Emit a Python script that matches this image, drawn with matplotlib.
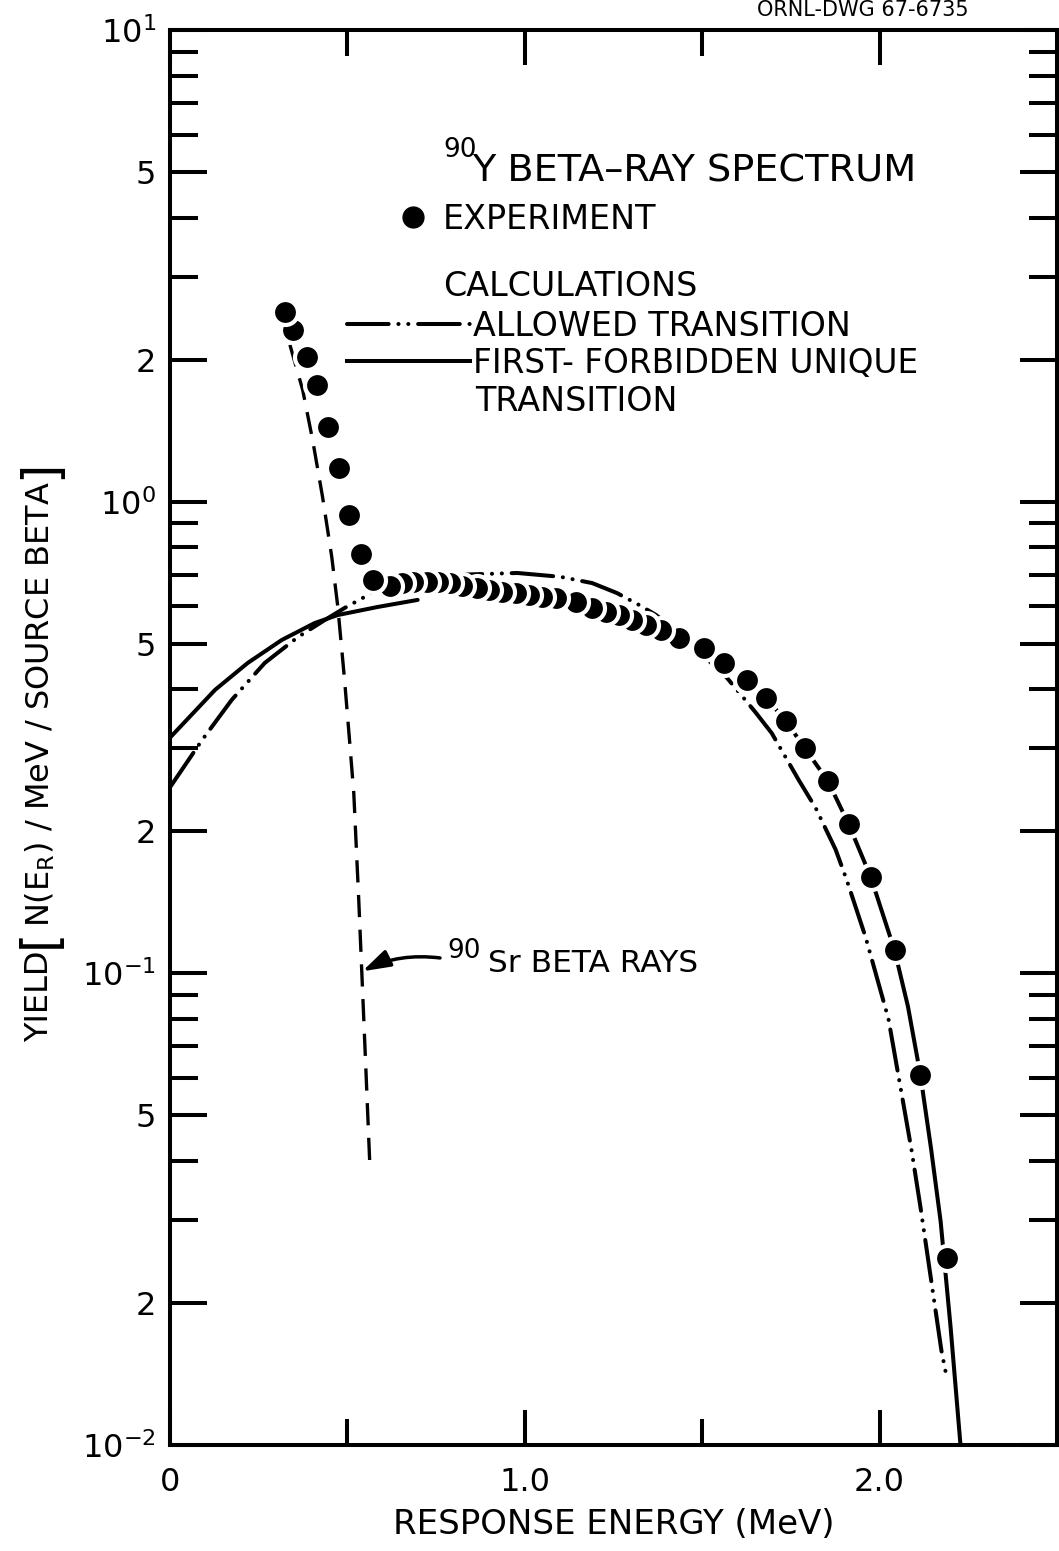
import numpy as np
import matplotlib
matplotlib.use("Agg")
import matplotlib.pyplot as plt
from matplotlib.ticker import FixedLocator, FixedFormatter, LogLocator, FuncFormatter, NullFormatter

plt.rcParams["font.family"] = ["DejaVu Sans"]
plt.rcParams["mathtext.fontset"] = "dejavusans"
plt.rcParams["lines.scale_dashes"] = False

# ---------------- data ----------------
# experiment (90Y beta-ray spectrum), energy in MeV, yield per MeV per source beta
exp_energy = [0.323, 0.346, 0.385, 0.414, 0.444, 0.475, 0.504, 0.537, 0.571, 0.619,
              0.653, 0.684, 0.723, 0.754, 0.788, 0.824, 0.864, 0.900, 0.937, 0.976,
              1.013, 1.049, 1.089, 1.145, 1.190, 1.229, 1.266, 1.302, 1.342, 1.384,
              1.435, 1.505, 1.561, 1.626, 1.679, 1.736, 1.789, 1.854, 1.913, 1.975,
              2.042, 2.115, 2.189]
exp_yield = [2.52, 2.31, 2.03, 1.77, 1.44, 1.18, 0.937, 0.774, 0.682, 0.663,
             0.672, 0.676, 0.676, 0.676, 0.672, 0.663, 0.656, 0.650, 0.643, 0.640,
             0.634, 0.628, 0.625, 0.613, 0.595, 0.583, 0.575, 0.561, 0.548, 0.534,
             0.514, 0.490, 0.455, 0.419, 0.384, 0.343, 0.300, 0.256, 0.207, 0.160,
             0.112, 0.0609, 0.0249]

# calculation: allowed transition
allowed_energy = [0.0, 0.020, 0.090, 0.174, 0.267, 0.360, 0.436, 0.492, 0.568, 0.680,
                  0.788, 0.979, 1.100, 1.190, 1.260, 1.322, 1.370, 1.463, 1.570, 1.651,
                  1.696, 1.772, 1.820, 1.876, 1.907, 1.961, 2.025, 2.090, 2.115, 2.144,
                  2.174, 2.186]
allowed_yield = [0.248, 0.261, 0.312, 0.380, 0.455, 0.516, 0.561, 0.595, 0.640, 0.675,
                 0.699, 0.706, 0.693, 0.672, 0.640, 0.604, 0.575, 0.504, 0.423, 0.357,
                 0.323, 0.257, 0.224, 0.183, 0.158, 0.119, 0.080, 0.0422, 0.0320, 0.0227,
                 0.0159, 0.0143]

# calculation: first-forbidden unique transition (drawn in two visible pieces)
ffu_low_energy = [0.0, 0.127, 0.219, 0.315, 0.408, 0.473, 0.585, 0.698]
ffu_low_yield = [0.316, 0.399, 0.455, 0.509, 0.553, 0.575, 0.598, 0.619]
ffu_high_energy = [1.626, 1.679, 1.736, 1.789, 1.854, 1.913, 1.975, 2.042, 2.080,
                   2.115, 2.145, 2.172, 2.200, 2.228]
ffu_high_yield = [0.419, 0.384, 0.343, 0.300, 0.256, 0.207, 0.160, 0.112, 0.0850,
                  0.0609, 0.0425, 0.0298, 0.0178, 0.0100]

# 90Sr beta rays
sr_energy = [0.338, 0.374, 0.402, 0.430, 0.456, 0.473, 0.492, 0.506, 0.518, 0.532,
             0.540, 0.551, 0.563]
sr_yield = [2.15, 1.725, 1.351, 1.023, 0.763, 0.598, 0.419, 0.312, 0.241, 0.143,
            0.103, 0.0655, 0.0396]

x_major_ticks = [0.0, 1.0, 2.0]
x_minor_ticks = [0.5, 1.5]
x_tick_labels = ["0", "1.0", "2.0"]

ylabel_pieces = ["YIELD", "[", r"N(E$_\mathrm{R}$) / MeV / SOURCE BETA", "]"]

# ---------------- figure ----------------
W, H = 1059, 1551
fig = plt.figure(figsize=(W / 100, H / 100), dpi=100)
AX_L, AX_R, AX_T, AX_B = 170, 1057, 30, 1445
ax = fig.add_axes([AX_L / W, 1 - AX_B / H, (AX_R - AX_L) / W, (AX_B - AX_T) / H])
ax.set_yscale("log")
ax.set_xlim(0, 2.5)
ax.set_ylim(1e-2, 1e1)

lw = 2.9
for s in ax.spines.values():
    s.set_linewidth(lw)

ax.xaxis.set_major_locator(FixedLocator(x_major_ticks))
ax.xaxis.set_major_formatter(FixedFormatter(x_tick_labels))
ax.xaxis.set_minor_locator(FixedLocator(x_minor_ticks))
ax.yaxis.set_major_locator(LogLocator(base=10, subs=(1.0, 2.0, 5.0)))
ax.yaxis.set_minor_locator(LogLocator(base=10, subs=(3.0, 4.0, 6.0, 7.0, 8.0, 9.0)))


def yfmt(v, pos):
    e = int(np.floor(np.log10(v) + 1e-9))
    m = v / 10 ** e
    if abs(m - 1) < 1e-6:
        return r"$10^{%d}$" % e
    return "%d" % round(m)


ax.yaxis.set_major_formatter(FuncFormatter(yfmt))
ax.yaxis.set_minor_formatter(NullFormatter())

ax.tick_params(axis="both", which="both", direction="in", width=lw, colors="k",
               top=True, right=True)
ax.tick_params(axis="y", which="major", length=26.5, pad=10, labelsize=23)
ax.tick_params(axis="y", which="minor", length=20)
ax.tick_params(axis="x", which="major", length=25, pad=16, labelsize=23)
ax.tick_params(axis="x", which="minor", length=19)

# curves
ax.plot(sr_energy, sr_yield, color="k", lw=2.4, dashes=(16, 9),
        dash_capstyle="butt", zorder=2)
ax.plot(allowed_energy, allowed_yield, color="k", lw=lw,
        dashes=(30, 7, 0.1, 7, 0.1, 7), dash_capstyle="round", zorder=2)
ax.plot(ffu_low_energy, ffu_low_yield, color="k", lw=lw, zorder=2,
        solid_capstyle="round")
ax.plot(ffu_high_energy, ffu_high_yield, color="k", lw=lw, zorder=2,
        solid_capstyle="round")
# experiment points, drawn right-to-left so left dots sit on top
ax.plot(exp_energy[::-1], exp_yield[::-1], ls="none", marker="o", ms=18,
        mfc="k", mec="w", mew=3, zorder=3)

# ---------------- in-plot key ----------------
T = ax.transAxes


def axf(px, py):
    return ((px - AX_L) / (AX_R - AX_L), (AX_B - py) / (AX_B - AX_T))


ax.text(*axf(443, 157), "90", fontsize=19, ha="left", va="baseline", transform=T)
ax.text(*axf(472, 182), "Y BETA\u2013RAY SPECTRUM", fontsize=27.5, ha="left",
        va="baseline", transform=T)
ax.plot(*axf(413, 217), transform=T, marker="o", ms=15, mfc="k", mec="k", ls="none")
ax.text(*axf(443, 229), "EXPERIMENT", fontsize=24, ha="left", va="baseline", transform=T)
ax.text(*axf(443, 296), "CALCULATIONS", fontsize=24, ha="left", va="baseline", transform=T)
x0, y0 = axf(347, 324)
x1, _ = axf(470, 324)
ax.plot([x0, x1], [y0, y0], transform=T, color="k", lw=lw,
        dashes=(30, 7, 0.1, 7, 0.1, 7), dash_capstyle="round")
ax.text(*axf(473, 336), "ALLOWED TRANSITION", fontsize=24, ha="left", va="baseline",
        transform=T)
x0, y0 = axf(347, 361)
ax.plot([x0, x1], [y0, y0], transform=T, color="k", lw=lw)
ax.text(*axf(473, 373), "FIRST- FORBIDDEN UNIQUE", fontsize=23.5, ha="left",
        va="baseline", transform=T)
ax.text(*axf(475, 411), "TRANSITION", fontsize=24, ha="left", va="baseline", transform=T)

# 90Sr annotation
ax.annotate("", xy=(0.542, 0.101), xytext=(0.761, 0.1078),
            arrowprops=dict(arrowstyle="-|>,head_length=0.7,head_width=0.22",
                            mutation_scale=24, lw=2.5, color="k", shrinkA=0, shrinkB=0,
                            connectionstyle="arc3,rad=0.15"))
ax.text(*axf(447, 958), "90", fontsize=19, ha="left", va="baseline", transform=T)
ax.text(*axf(488, 972), "Sr BETA RAYS", fontsize=22.5, ha="left", va="baseline",
        transform=T)

# axis labels
ax.set_xlabel("RESPONSE ENERGY (MeV)", fontsize=24.5)
ax.xaxis.set_label_coords(0.5, (AX_B - 1508) / (AX_B - AX_T))

# y label built from pieces so the square brackets can be large
renderer = fig.canvas.get_renderer()
ybot = 1 - 1042 / H
for piece in ylabel_pieces:
    fs = 36 if piece in ("[", "]") else 23
    t = fig.text(40 / W, ybot, piece, rotation=90, ha="center", va="bottom",
                 fontsize=fs)
    ext = t.get_window_extent(renderer)
    ybot += (ext.height + 2) / H

# drawing number at the top edge
fig.text(757 / W, 1.0, "ORNL-DWG 67-6735", fontsize=15, ha="left", va="top")

fig.savefig("out.png", dpi=100)
